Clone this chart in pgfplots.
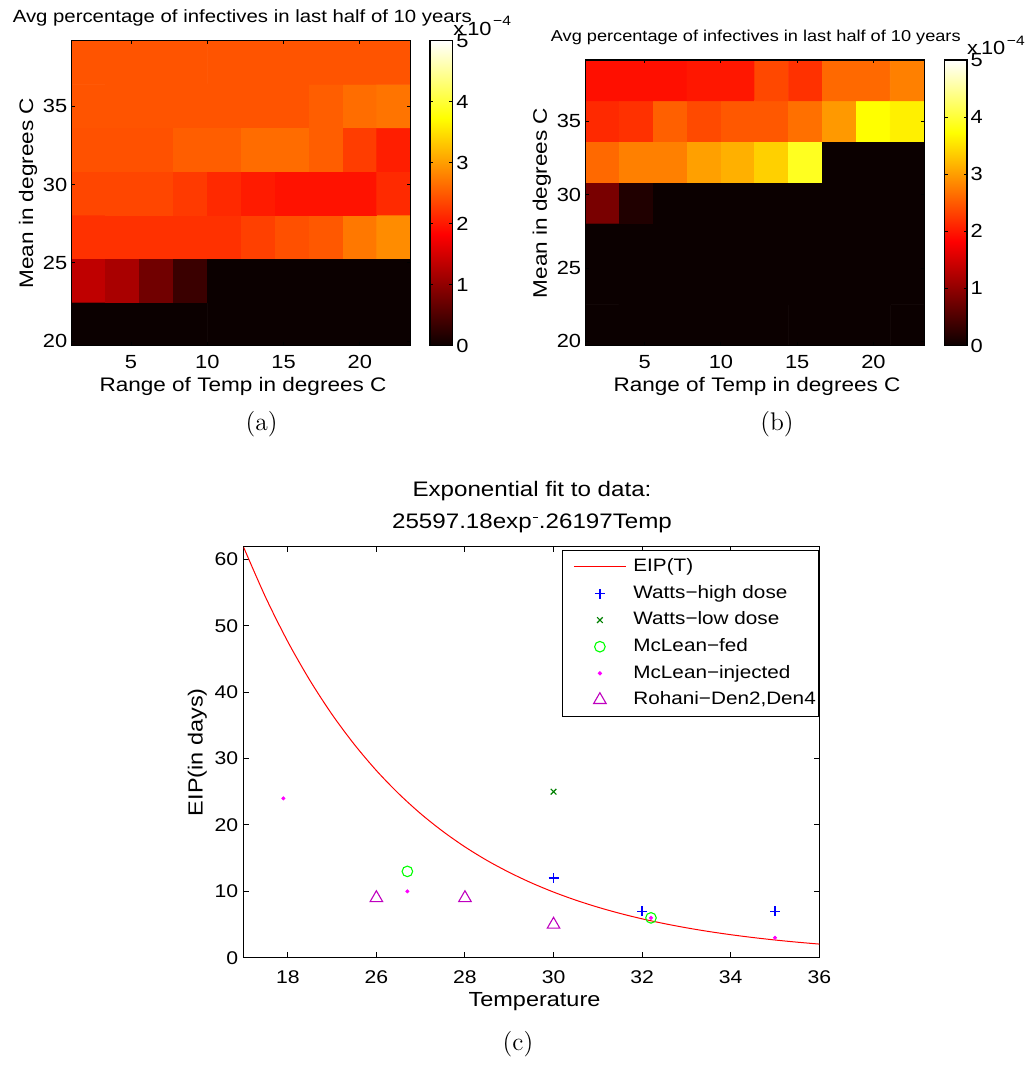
\documentclass[border=0pt]{standalone}
\usepackage{pgfplots}
\pgfplotsset{compat=1.18}
\usepackage{fontspec}
\newfontfamily\hv{Liberation Sans}[FakeStretch=1.15]
\definecolor{mblue}{rgb}{0,0,1}
\definecolor{dgreen}{rgb}{0,0.5,0}
\definecolor{lgreen}{rgb}{0,1,0}
\definecolor{mmag}{rgb}{1,0,1}
\definecolor{dmag}{rgb}{0.75,0,0.75}
\pgfplotsset{
  colormap={mhot}{rgb255(0cm)=(11,0,0); rgb255(23cm)=(255,0,0); rgb255(47cm)=(255,255,0); rgb255(63cm)=(255,255,255)},
  /pgf/number format/assume math mode=true,
  lineleg/.style={legend image code/.code={\path[draw=none] (0pt,0pt) -- (30.5pt,0pt); \draw[##1] (4.5pt,0pt) -- (30.5pt,0pt);}},
  markleg/.style={legend image code/.code={\path[draw=none] (0pt,0pt) -- (30.5pt,0pt); \draw[##1] plot coordinates {(17.5pt,0pt)};}},
  blueleg/.style={legend image code/.code={\path[draw=none] (0pt,0pt) -- (30.5pt,0pt); \draw[draw=mblue, line width=0.65pt] (15pt,0pt) -- (20pt,0pt) (17.5pt,-2.5pt) -- (17.5pt,2.5pt);}},
  heat/.style={
    scale only axis, anchor=north west,
    xmin=1.1111, xmax=23.3333, ymin=19.7222, ymax=39.1667,
    xtick={5,10,15,20}, ytick={20,25,30,35},
    tick align=inside, major tick length=1.7pt,
    axis on top, colormap name=mhot, point meta min=0, point meta max=5,
    axis line style={line width=0.6pt},
    tick style={black, line width=0.5pt},
    tick label style={font=\hv\fontsize{9.5}{11}\selectfont, inner sep=0pt},
    xticklabel style={anchor=north, yshift=-4.65pt},
    yticklabel style={anchor=east, xshift=-2pt},
    colorbar,
  },
  cbar/.style={colorbar style={at={(parent axis.north east)}, anchor=north west,
    xshift={#1-0.3cm}, width=11.3pt, scale only axis, ytick={0,1,2,3,4,5},
    tick align=inside, major tick length=1.7pt,
    axis line style={line width=0.6pt}, tick style={black, line width=0.5pt},
    yticklabel style={font=\hv\fontsize{9.5}{11}\selectfont, inner sep=0pt, anchor=west, xshift=1.65pt}}},
}
\begin{document}
\begin{tikzpicture}
\path[use as bounding box] (0pt,0pt) rectangle (516pt,-532.5pt);

% ---------------- (a)
\begin{axis}[heat, at={(35.85pt,-20.35pt)}, width=169.5pt, height=152.5pt, cbar=9.65pt]
\addplot[matrix plot*, mesh/cols=10, point meta=explicit] table[meta=c, row sep=\\] {
x y c\\
2.2222 21.1111 0\\ 4.4444 21.1111 0\\ 6.6667 21.1111 0\\ 8.8889 21.1111 0\\ 11.1111 21.1111 0\\ 13.3333 21.1111 0\\ 15.5556 21.1111 0\\ 17.7778 21.1111 0\\ 20 21.1111 0\\ 22.2222 21.1111 0\\
2.2222 23.8889 1.35\\ 4.4444 23.8889 1.18\\ 6.6667 23.8889 0.76\\ 8.8889 23.8889 0.35\\ 11.1111 23.8889 0\\ 13.3333 23.8889 0\\ 15.5556 23.8889 0\\ 17.7778 23.8889 0\\ 20 23.8889 0\\ 22.2222 23.8889 0\\
2.2222 26.6667 2.19\\ 4.4444 26.6667 2.19\\ 6.6667 26.6667 2.19\\ 8.8889 26.6667 2.19\\ 11.1111 26.6667 2.19\\ 13.3333 26.6667 2.30\\ 15.5556 26.6667 2.42\\ 17.7778 26.6667 2.48\\ 20 26.6667 2.72\\ 22.2222 26.6667 2.87\\
2.2222 29.4444 2.35\\ 4.4444 29.4444 2.35\\ 6.6667 29.4444 2.35\\ 8.8889 29.4444 2.26\\ 11.1111 29.4444 2.13\\ 13.3333 29.4444 2.03\\ 15.5556 29.4444 1.96\\ 17.7778 29.4444 1.96\\ 20 29.4444 1.96\\ 22.2222 29.4444 2.14\\
2.2222 32.2222 2.43\\ 4.4444 32.2222 2.43\\ 6.6667 32.2222 2.43\\ 8.8889 32.2222 2.53\\ 11.1111 32.2222 2.53\\ 13.3333 32.2222 2.63\\ 15.5556 32.2222 2.63\\ 17.7778 32.2222 2.53\\ 20 32.2222 2.28\\ 22.2222 32.2222 2.05\\
2.2222 35 2.45\\ 4.4444 35 2.45\\ 6.6667 35 2.45\\ 8.8889 35 2.45\\ 11.1111 35 2.45\\ 13.3333 35 2.45\\ 15.5556 35 2.45\\ 17.7778 35 2.53\\ 20 35 2.64\\ 22.2222 35 2.69\\
2.2222 37.7778 2.45\\ 4.4444 37.7778 2.45\\ 6.6667 37.7778 2.45\\ 8.8889 37.7778 2.45\\ 11.1111 37.7778 2.45\\ 13.3333 37.7778 2.45\\ 15.5556 37.7778 2.45\\ 17.7778 37.7778 2.45\\ 20 37.7778 2.45\\ 22.2222 37.7778 2.45\\
};
\end{axis}

% ---------------- (b)
\begin{axis}[heat, at={(292.75pt,-30pt)}, width=169.35pt, height=142.75pt, cbar=10.05pt]
\addplot[matrix plot*, mesh/cols=10, point meta=explicit] table[meta=c, row sep=\\] {
x y c\\
2.2222 21.1111 0\\ 4.4444 21.1111 0\\ 6.6667 21.1111 0\\ 8.8889 21.1111 0\\ 11.1111 21.1111 0\\ 13.3333 21.1111 0\\ 15.5556 21.1111 0\\ 17.7778 21.1111 0\\ 20 21.1111 0\\ 22.2222 21.1111 0\\
2.2222 23.8889 0\\ 4.4444 23.8889 0\\ 6.6667 23.8889 0\\ 8.8889 23.8889 0\\ 11.1111 23.8889 0\\ 13.3333 23.8889 0\\ 15.5556 23.8889 0\\ 17.7778 23.8889 0\\ 20 23.8889 0\\ 22.2222 23.8889 0\\
2.2222 26.6667 0\\ 4.4444 26.6667 0\\ 6.6667 26.6667 0\\ 8.8889 26.6667 0\\ 11.1111 26.6667 0\\ 13.3333 26.6667 0\\ 15.5556 26.6667 0\\ 17.7778 26.6667 0\\ 20 26.6667 0\\ 22.2222 26.6667 0\\
2.2222 29.4444 0.82\\ 4.4444 29.4444 0.16\\ 6.6667 29.4444 0\\ 8.8889 29.4444 0\\ 11.1111 29.4444 0\\ 13.3333 29.4444 0\\ 15.5556 29.4444 0\\ 17.7778 29.4444 0\\ 20 29.4444 0\\ 22.2222 29.4444 0\\
2.2222 32.2222 2.61\\ 4.4444 32.2222 2.78\\ 6.6667 32.2222 2.78\\ 8.8889 32.2222 3.02\\ 11.1111 32.2222 3.14\\ 13.3333 32.2222 3.38\\ 15.5556 32.2222 3.89\\ 17.7778 32.2222 0\\ 20 32.2222 0\\ 22.2222 32.2222 0\\
2.2222 35 2.13\\ 4.4444 35 2.19\\ 6.6667 35 2.54\\ 8.8889 35 2.38\\ 11.1111 35 2.48\\ 13.3333 35 2.48\\ 15.5556 35 2.66\\ 17.7778 35 2.97\\ 20 35 3.73\\ 22.2222 35 3.62\\
2.2222 37.7778 1.94\\ 4.4444 37.7778 1.94\\ 6.6667 37.7778 1.94\\ 8.8889 37.7778 2.0\\ 11.1111 37.7778 2.0\\ 13.3333 37.7778 2.36\\ 15.5556 37.7778 2.19\\ 17.7778 37.7778 2.61\\ 20 37.7778 2.61\\ 22.2222 37.7778 2.78\\
};
\end{axis}

% ---------------- (c)
\begin{axis}[scale only axis, anchor=north west, at={(121.75pt,-273.35pt)},
  width=287.9pt, height=205.5pt,
  xmin=23, xmax=36, ymin=0, ymax=61.9,
  xtick={24,26,28,30,32,34,36}, xticklabels={18,26,28,30,32,34,36},
  ytick={0,10,20,30,40,50,60},
  tick align=inside, major tick length=2.7pt,
  axis line style={line width=0.65pt}, tick style={black, line width=0.5pt},
  tick label style={font=\hv\fontsize{9.2}{11}\selectfont, inner sep=0pt},
  xticklabel style={anchor=north, yshift=-6.5pt},
  yticklabel style={anchor=east, xshift=-2.5pt},
  legend cell align=left,
  legend style={at={(1,1)}, anchor=north east, yshift=-1.65pt, draw=black, line width=0.5pt,
    fill=white, inner xsep=1pt, inner ysep=3.8pt, row sep=4.5pt, column sep=3pt,
    font=\hv\fontsize{9}{10}\selectfont,
    nodes={inner xsep=0.5pt, inner ysep=0pt, text height=6.8pt, text depth=2pt}},
]
\addplot[color=red, line width=0.5pt, smooth, lineleg]
  table[row sep=\\] {
x y\\ 23 61.86\\ 23.5 54.27\\ 24 47.60\\ 24.5 41.76\\ 25 36.63\\ 25.5 32.14\\ 26 28.19\\ 26.5 24.73\\ 27 21.69\\ 27.5 19.03\\ 28 16.69\\ 28.5 14.64\\ 29 12.85\\ 29.5 11.27\\ 30 9.886\\ 30.5 8.672\\ 31 7.608\\ 31.5 6.674\\ 32 5.854\\ 32.5 5.136\\ 33 4.505\\ 33.5 3.952\\ 34 3.467\\ 34.5 3.041\\ 35 2.668\\ 35.5 2.340\\ 36 2.053\\
};
\addlegendentry{EIP(T)}
\addplot[only marks, color=mblue, mark=+, mark size=2.5pt, line width=0.65pt, blueleg]
  coordinates {(30,12) (32,7) (35,7)};
\addlegendentry{Watts−high dose}
\addplot[only marks, color=dgreen, mark=x, mark size=2pt, line width=0.55pt, markleg]
  coordinates {(30,25)};
\addlegendentry{Watts−low dose}
\addplot[only marks, color=lgreen, mark=o, mark size=2.65pt, line width=0.55pt, markleg]
  coordinates {(26.7,13) (32.2,6)};
\addlegendentry{McLean−fed}
\addplot[only marks, color=mmag, mark=*, mark size=0.8pt, markleg]
  coordinates {(23.9,24) (26.7,10) (32.2,6) (35,3)};
\addlegendentry{McLean−injected}
\addplot[only marks, color=dmag, mark=triangle, mark size=3.6pt, line width=0.55pt, markleg]
  coordinates {(26,9) (28,9) (30,5)};
\addlegendentry{Rohani−Den2,Den4}
\end{axis}

% ---------------- texts
\node[anchor=base, inner sep=0, font=\hv\fontsize{8.85}{10}\selectfont] at (121.15pt,-11.35pt) {Avg percentage of infectives in last half of 10 years};
\node[anchor=base, inner sep=0, font=\hv\fontsize{7.9}{9}\selectfont] at (377.9pt,-21pt) {Avg percentage of infectives in last half of 10 years};
\node[anchor=base west, inner sep=0, font=\hv\fontsize{9.5}{11}\selectfont] at (226.5pt,-17.75pt) {x\kern1.5pt10\kern0.8pt\raisebox{0.5em}{\fontsize{6.8}{8}\selectfont −4}};
\node[anchor=base west, inner sep=0, font=\hv\fontsize{9.5}{11}\selectfont] at (483.35pt,-27.25pt) {x\kern1.5pt10\kern0.8pt\raisebox{0.5em}{\fontsize{6.8}{8}\selectfont −4}};
\node[rotate=90, anchor=base, inner sep=0, font=\hv\fontsize{9.8}{11}\selectfont] at (16.5pt,-96.6pt) {Mean in degrees C};
\node[rotate=90, anchor=base, inner sep=0, font=\hv\fontsize{9.8}{11}\selectfont] at (273.4pt,-101.5pt) {Mean in degrees C};
\node[anchor=base, inner sep=0, font=\hv\fontsize{9.8}{11}\selectfont] at (121.5pt,-195.85pt) {Range of Temp in degrees C};
\node[anchor=base, inner sep=0, font=\hv\fontsize{9.8}{11}\selectfont] at (378.5pt,-195.85pt) {Range of Temp in degrees C};
\node[anchor=base, inner sep=0, font=\fontsize{12.75}{14}\selectfont] at (130.85pt,-215.15pt) {(a)};
\node[anchor=base, inner sep=0, font=\fontsize{12.75}{14}\selectfont] at (388.5pt,-215.15pt) {(b)};
\node[anchor=base, inner sep=0, font=\fontsize{12.75}{14}\selectfont] at (259pt,-525.15pt) {(c)};
\node[anchor=base, inner sep=0, font=\hv\fontsize{10.5}{12}\selectfont] at (266pt,-248pt) {Exponential fit to data:};
\node[anchor=base, inner sep=0, font=\hv\fontsize{10.5}{12}\selectfont] at (266pt,-264.15pt) {25597.18exp\kern0.6pt\raisebox{5pt}{\rule{2.6pt}{0.55pt}}\kern0.4pt.26197Temp};
\node[anchor=base, inner sep=0, font=\hv\fontsize{10.2}{12}\selectfont] at (267.25pt,-503.35pt) {Temperature};
\node[rotate=90, anchor=base, inner sep=0, font=\hv\fontsize{10.2}{12}\selectfont] at (101.35pt,-376.1pt) {EIP(in days)};
\end{tikzpicture}
\end{document}
